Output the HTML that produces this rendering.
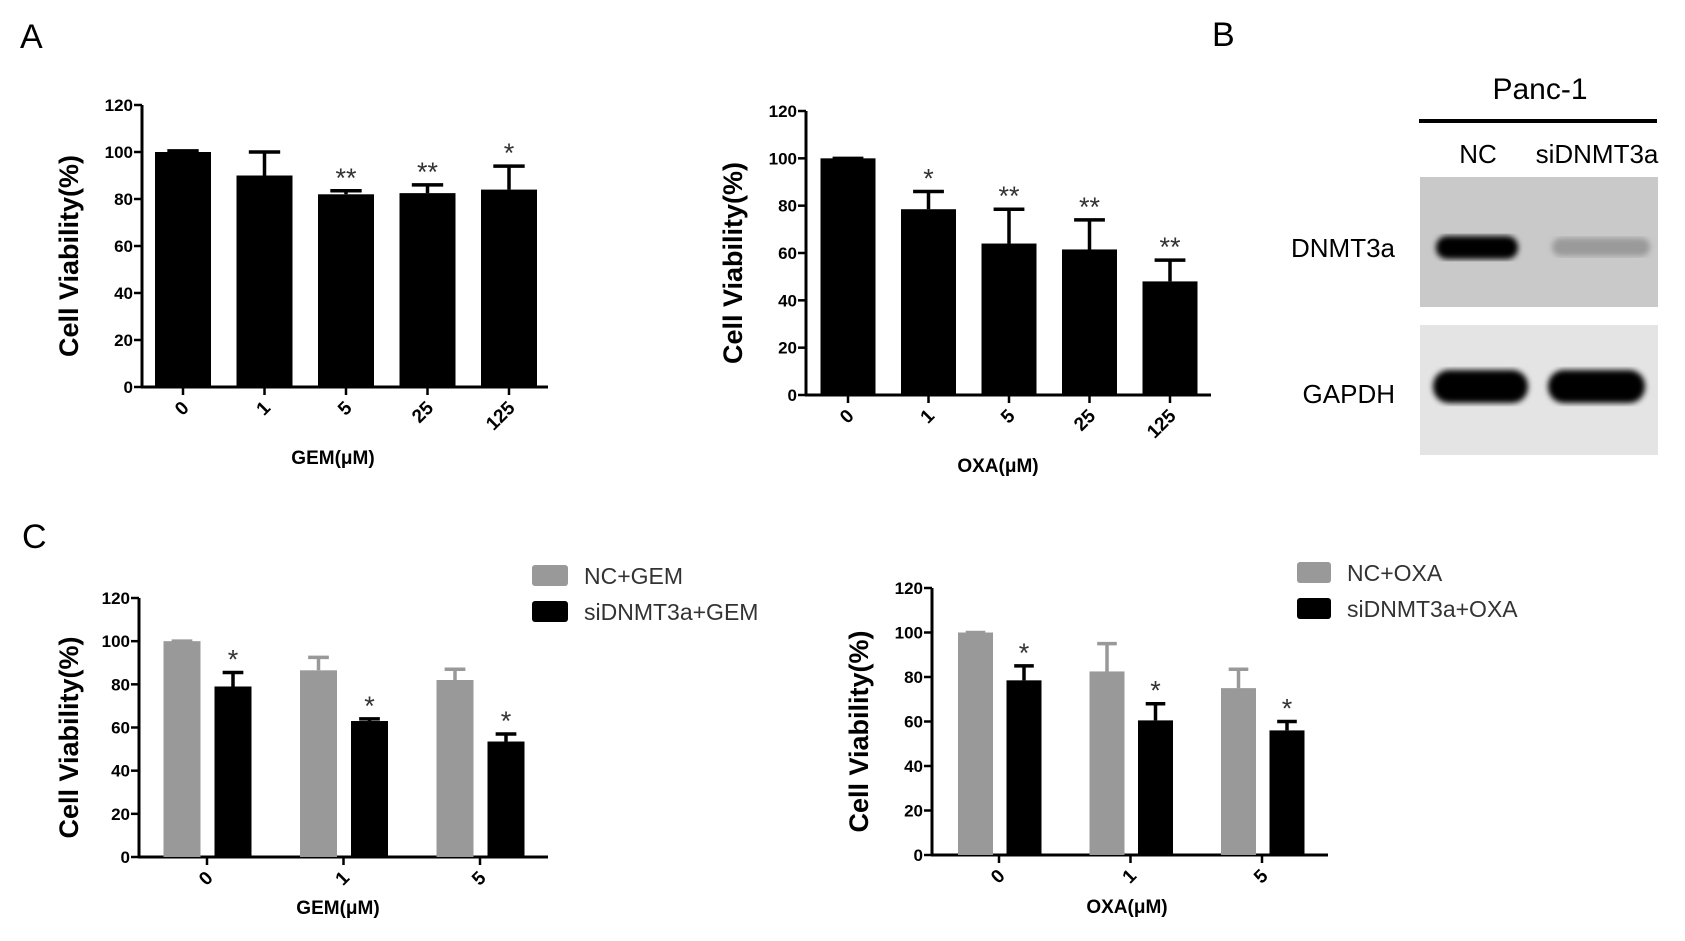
<!DOCTYPE html>
<html><head><meta charset="utf-8"><style>
html,body{margin:0;padding:0;background:#fff;}
svg{display:block;font-family:"Liberation Sans",sans-serif;}
.tk{font-size:17px;font-weight:bold;}
.xk{font-size:19px;font-weight:bold;}
.yt{font-size:27px;font-weight:bold;}
.xt{font-size:19px;font-weight:bold;}
.lg{font-size:23px;}
</style></head><body>
<svg id="fig" width="1685" height="941" viewBox="0 0 1685 941">
<defs>
<filter id="blur3"><feGaussianBlur stdDeviation="3"/></filter>
</defs>
<text x="20" y="48" font-size="34">A</text>
<text x="1212" y="46" font-size="34">B</text>
<text x="22" y="548" font-size="34">C</text>
<g>
<text x="1540" y="99" font-size="30" text-anchor="middle">Panc-1</text>
<rect x="1419" y="119" width="238" height="4" fill="#000"/>
<text x="1478" y="163" font-size="26" text-anchor="middle">NC</text>
<text x="1597" y="163" font-size="26" text-anchor="middle">siDNMT3a</text>
<text x="1395" y="257" font-size="26" text-anchor="end">DNMT3a</text>
<text x="1395" y="403" font-size="26" text-anchor="end">GAPDH</text>
<rect x="1420" y="177" width="238" height="130" fill="#c9c9c9"/>
<rect x="1436" y="236" width="82" height="23" rx="11" fill="#000" filter="url(#blur3)"/>
<rect x="1552" y="238" width="98" height="18" rx="9" fill="#9a9a9a" filter="url(#blur3)"/>
<rect x="1420" y="325" width="238" height="130" fill="#e4e4e4"/>
<rect x="1433" y="370" width="95" height="33" rx="16" fill="#000" filter="url(#blur3)"/>
<rect x="1548" y="370" width="97" height="33" rx="16" fill="#000" filter="url(#blur3)"/>
</g>
</svg>
<script>
// Panel A1 data
const gemCats = ['0','1','5','25','125'];
const gemVals = [100, 90, 82, 82.5, 84];
const gemErr = [100.5, 100, 83.5, 86, 94];
const gemSig = ['', '', '**', '**', '*'];
// Panel A2 data
const oxaCats = ['0','1','5','25','125'];
const oxaVals = [100, 78.5, 64, 61.5, 48];
const oxaErr = [100, 86, 78.5, 74, 57];
const oxaSig = ['', '*', '**', '**', '**'];
// Panel C1 data
const cGemCats = ['0','1','5'];
const cGemNC = [100, 86.5, 82];
const cGemNCErr = [100, 92.5, 87];
const cGemSi = [79, 63, 53.5];
const cGemSiErr = [85.5, 64, 57];
const cGemSig = ['*','*','*'];
// Panel C2 data
const cOxaCats = ['0','1','5'];
const cOxaNC = [100, 82.5, 75];
const cOxaNCErr = [100, 95, 83.5];
const cOxaSi = [78.5, 60.5, 56];
const cOxaSiErr = [85, 68, 60];
const cOxaSig = ['*','*','*'];
const yTicks = [0,20,40,60,80,100,120];

const NS='http://www.w3.org/2000/svg';
const svg=document.getElementById('fig');
function mk(tag,attrs,parent,text){const e=document.createElementNS(NS,tag);for(const k in attrs)e.setAttribute(k,attrs[k]);if(text!==undefined)e.textContent=text;(parent||svg).appendChild(e);return e;}

function axes(g,L,xLabel){
  const y=v=>L.y0-(v/120)*(L.y0-L.y120);
  let a=mk('line',{x1:L.ax,y1:L.y120,x2:L.ax,y2:L.y0+1,stroke:'#000','stroke-width':3},g);
  
  
  a=mk('line',{x1:L.ax-1,y1:L.y0,x2:L.xEnd,y2:L.y0,stroke:'#000','stroke-width':3},g);
  
  
  yTicks.forEach(t=>{
    const ty=y(t);
    mk('line',{x1:L.ax-8,y1:ty,x2:L.ax,y2:ty,stroke:'#000','stroke-width':2.5},g);
    const tl=mk('text',{x:L.ax-9,y:ty+6,'text-anchor':'end',class:'tk'},g,String(t));
    
    
  });
  const yt=mk('text',{x:0,y:0,'text-anchor':'middle',class:'yt',transform:`translate(${L.ytx},${(L.y0+L.y120)/2+10}) rotate(-90)`},g,'Cell Viability(%)');
  
  
  const xt=mk('text',{x:L.xtx,y:L.xty,'text-anchor':'middle',class:'xt'},g,xLabel);
  
  
  return y;
}
function xTick(g,L,cx,label){
  mk('line',{x1:cx,y1:L.y0,x2:cx,y2:L.y0+8,stroke:'#000','stroke-width':2.5},g);
  const t=mk('text',{x:0,y:0,'text-anchor':'end',class:'xk',transform:`translate(${cx+7},${L.y0+22}) rotate(-45)`},g,label);
  
  
}
function bar(g,y,cx,w,v,e,col,name){
  const r=mk('rect',{x:cx-w/2,y:y(v),width:w,height:y(0)-y(v),fill:col},g);
  
  
  const eb=mk('path',{d:`M${cx},${y(v)} V${y(e)} M${cx-w*0.28},${y(e)} H${cx+w*0.28}`,stroke:col,'stroke-width':3.5,fill:'none'},g);
  
  
}
function sig(g,cx,yy,s){
  if(!s)return;
  const t=mk('text',{x:cx,y:yy,'text-anchor':'middle','font-size':27,fill:'#333'},g,s);
  
  
}
function single(name,L,cats,vals,errs,sigs,xLabel){
  const g=mk('g',{});
  
  
  const y=axes(g,L,xLabel);
  cats.forEach((c,i)=>{
    const cx=L.first+i*L.step;
    bar(g,y,cx,L.w,vals[i],errs[i],'#000','bar-'+c);
    sig(g,cx,y(errs[i])-4,sigs[i]);
    xTick(g,L,cx,c);
  });
}
function grouped(name,L,cats,nc,ncE,si,siE,sigs,xLabel,legNames){
  const g=mk('g',{});
  
  
  const y=axes(g,L,xLabel);
  cats.forEach((c,i)=>{
    const cx=L.first+i*L.step;
    bar(g,y,cx+L.off1,L.w,nc[i],ncE[i],'#999','bar-nc-'+c);
    bar(g,y,cx+L.off2,L.w,si[i],siE[i],'#000','bar-si-'+c);
    sig(g,cx+L.off2,y(siE[i])-4,sigs[i]);
    xTick(g,L,cx,c);
  });
  [['#999',legNames[0]],['#000',legNames[1]]].forEach((d,k)=>{
    const yy=L.legY+k*36;
    const r=mk('rect',{x:L.legX,y:yy,width:L.legW,height:21,rx:3,fill:d[0]},g);
    
    
    const t=mk('text',{x:L.legX+L.legW+16,y:yy+19,class:'lg',fill:'#333'},g,d[1]);
    
    
  });
}
single('chart-gem',{ax:142,y0:387,y120:105,xEnd:548,first:183,step:81.5,w:56,ytx:78,xtx:333,xty:464},gemCats,gemVals,gemErr,gemSig,'GEM(μM)');
single('chart-oxa',{ax:806,y0:395,y120:111,xEnd:1211,first:848,step:80.5,w:55,ytx:742,xtx:998,xty:472},oxaCats,oxaVals,oxaErr,oxaSig,'OXA(μM)');
grouped('chart-c-gem',{ax:139,y0:857,y120:598,xEnd:548,first:207,step:136.5,w:37,off1:-25,off2:26,ytx:78,xtx:338,xty:914,legX:532,legY:565,legW:36},cGemCats,cGemNC,cGemNCErr,cGemSi,cGemSiErr,cGemSig,'GEM(μM)',['NC+GEM','siDNMT3a+GEM']);
grouped('chart-c-oxa',{ax:932,y0:855,y120:588,xEnd:1328,first:999,step:131.5,w:35,off1:-23.5,off2:25,ytx:868,xtx:1127,xty:913,legX:1297,legY:562,legW:34},cOxaCats,cOxaNC,cOxaNCErr,cOxaSi,cOxaSiErr,cOxaSig,'OXA(μM)',['NC+OXA','siDNMT3a+OXA']);
</script>
</body></html>
